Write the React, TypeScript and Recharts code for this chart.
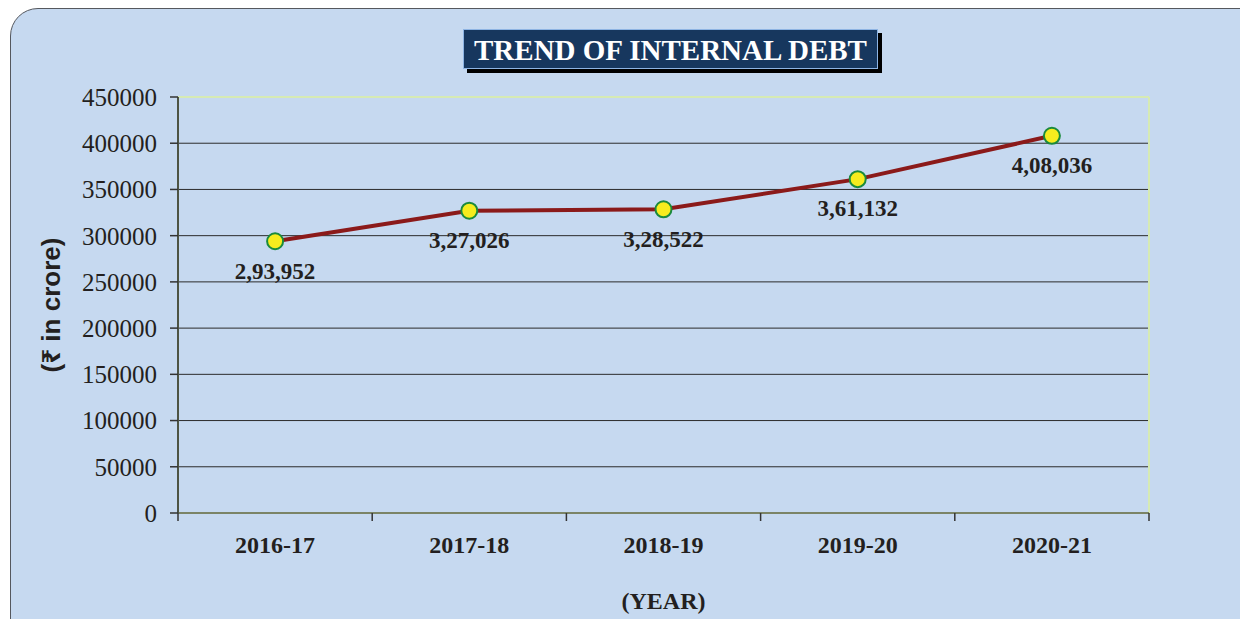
import { LineChart, Line, XAxis, YAxis, CartesianGrid, ReferenceLine, LabelList } from 'recharts';

const years = ['2016-17', '2017-18', '2018-19', '2019-20', '2020-21'];
const internalDebt = [293952, 327026, 328522, 361132, 408036];
const debtLabels = ['2,93,952', '3,27,026', '3,28,522', '3,61,132', '4,08,036'];
const yTicks = [0, 50000, 100000, 150000, 200000, 250000, 300000, 350000, 400000, 450000];

const data = years.map((year, i) => ({ year, debt: internalDebt[i], label: debtLabels[i] }));

const SERIF = '"Liberation Serif", "Times New Roman", serif';
const SANS = '"Liberation Sans", Arial, "Noto Sans", "DejaVu Sans", sans-serif';
const INK = '#231f20';
const X_TICK_SIZE = 8;
const X_TICK_MARGIN = 14;

function YearTick(props: any) {
  const { x, y, payload, index, visibleTicksCount } = props;
  const half = payload.offset || 0;
  const axisY = y - X_TICK_SIZE - X_TICK_MARGIN;
  const isLast = index === visibleTicksCount - 1;
  return (
    <g>
      <line x1={x - half} x2={x - half} y1={axisY} y2={axisY + X_TICK_SIZE} stroke="#333" strokeWidth={1.5} />
      {isLast && (
        <line x1={x + half} x2={x + half} y1={axisY} y2={axisY + X_TICK_SIZE} stroke="#333" strokeWidth={1.5} />
      )}
      <text
        x={x}
        y={axisY + 32}
        textAnchor="middle"
        dominantBaseline="central"
        fill={INK}
        fontFamily={SERIF}
        fontWeight="bold"
        fontSize={24}
      >
        {payload.value}
      </text>
    </g>
  );
}

function UnitLabel(props: any) {
  const { viewBox } = props;
  const cy = viewBox.y + viewBox.height / 2;
  const cx = 51;
  return (
    <text
      x={cx}
      y={cy}
      transform={`rotate(-90, ${cx}, ${cy})`}
      textAnchor="middle"
      dominantBaseline="central"
      fill={INK}
      fontFamily={SANS}
      fontWeight="bold"
      fontSize={26}
    >
      (₹ in crore)
    </text>
  );
}

export default function App() {
  return (
    <div style={{ position: 'absolute', left: 0, top: 0, width: 1240, height: 619, overflow: 'hidden', background: '#fff' }}>
      <div
        style={{
          position: 'absolute',
          left: 10,
          top: 8,
          width: 1260,
          height: 660,
          borderRadius: 28,
          border: '1.5px solid #55585e',
          background: '#c6d9f0',
        }}
      />
      <div style={{ position: 'absolute', left: 0, top: 0 }}>
        <LineChart width={1240} height={619} data={data} margin={{ top: 97, right: 91, bottom: 0, left: 0 }}>
          <CartesianGrid vertical={false} stroke="#2b2b2b" strokeWidth={1} />
          <ReferenceLine y={450000} stroke="#d6eab4" strokeWidth={2} />
          <ReferenceLine x="2020-21" position="end" stroke="#d6eab4" strokeWidth={2} />
          <XAxis
            dataKey="year"
            scale="band"
            height={106}
            tickLine={false}
            tickSize={X_TICK_SIZE}
            tickMargin={X_TICK_MARGIN}
            axisLine={{ stroke: '#7b8466', strokeWidth: 2 }}
            tick={<YearTick />}
            interval={0}
            label={{
              value: '(YEAR)',
              position: 'insideBottom',
              offset: 10,
              fill: INK,
              fontFamily: SERIF,
              fontWeight: 'bold',
              fontSize: 24,
            }}
          />
          <YAxis
            width={178}
            domain={[0, 450000]}
            ticks={yTicks}
            interval={0}
            tickSize={8}
            tickMargin={13}
            tickLine={{ stroke: '#333', strokeWidth: 1.5 }}
            axisLine={{ stroke: '#4d5444', strokeWidth: 2 }}
            tick={{ fill: INK, fontFamily: SERIF, fontSize: 25 }}
            label={<UnitLabel />}
          />
          <Line
            type="linear"
            dataKey="debt"
            stroke="#8b1a1a"
            strokeWidth={4}
            dot={{ r: 8, fill: '#f6ec1e', stroke: '#1b8a3c', strokeWidth: 2 }}
            isAnimationActive={false}
          >
            <LabelList
              dataKey="label"
              position="bottom"
              offset={21}
              fill={INK}
              fontFamily={SERIF}
              fontWeight="bold"
              fontSize={23}
            />
          </Line>
        </LineChart>
      </div>
      <div
        style={{
          position: 'absolute',
          left: 463,
          top: 29,
          width: 413,
          height: 38,
          background: '#17375e',
          border: '1.5px solid #8eb4e3',
          boxShadow: '4px 4px 0 #000',
          color: '#fff',
          fontFamily: SERIF,
          fontWeight: 'bold',
          fontSize: 29,
          lineHeight: '40px',
          textAlign: 'center',
          whiteSpace: 'nowrap',
        }}
      >
        TREND OF INTERNAL DEBT
      </div>
    </div>
  );
}
